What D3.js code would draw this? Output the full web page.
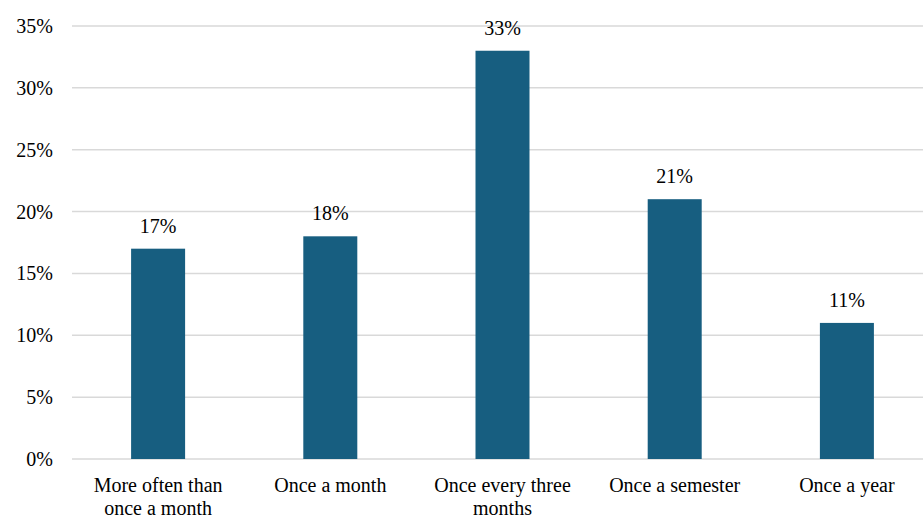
<!DOCTYPE html>
<html><head><meta charset="utf-8">
<script src="https://cdn.jsdelivr.net/npm/d3@7"></script>
</head><body style="margin:0">
<script>
const categories = ["More often than once a month","Once a month","Once every three months","Once a semester","Once a year"];
const labelLines = [["More often than","once a month"],["Once a month"],["Once every three","months"],["Once a semester"],["Once a year"]];
const values = [17,18,33,21,11];
const yTicks = [0,5,10,15,20,25,30,35];

const W=923,H=519;
const FF='"Liberation Serif"';
const svg=d3.select("body").append("svg").attr("width",W).attr("height",H).style("display","block").style("font-family",FF);
const x=d3.scaleBand().domain(categories).range([72,933]).paddingInner(0).paddingOuter(0);
const y=d3.scaleLinear().domain([0,35]).range([459,26]);
const bw=54;

svg.append("g").selectAll("line").data(yTicks).join("line")
 .attr("x1",72).attr("x2",W).attr("y1",d=>y(d)).attr("y2",d=>y(d))
 .attr("stroke","#d9d9d9").attr("stroke-width",1.5);

svg.append("g").selectAll("text").data(yTicks).join("text")
 .attr("x",53).attr("y",d=>y(d)+7).attr("text-anchor","end")
 .style("font-family",FF).style("font-size","20px").attr("fill","#000")
 .text(d=>d+"%");

svg.append("g").selectAll("rect").data(values).join("rect")
 .attr("x",(d,i)=>x(categories[i])+x.bandwidth()/2-bw/2).attr("width",bw)
 .attr("y",d=>y(d)).attr("height",d=>y(0)-y(d)).attr("fill","#175E80");

svg.append("g").selectAll("text").data(values).join("text")
 .attr("x",(d,i)=>x(categories[i])+x.bandwidth()/2).attr("y",d=>y(d)-16)
 .attr("text-anchor","middle").style("font-family",FF).style("font-size","20px")
 .text(d=>d+"%");

const xl=svg.append("g").selectAll("text").data(labelLines).join("text")
 .attr("text-anchor","middle").style("font-family",FF).style("font-size","20px");
xl.each(function(lines,i){
  const cx=x(categories[i])+x.bandwidth()/2;
  d3.select(this).selectAll("tspan").data(lines).join("tspan")
   .attr("x",cx).attr("y",(l,j)=>492+j*23).text(l=>l);
});
</script>
</body></html>
